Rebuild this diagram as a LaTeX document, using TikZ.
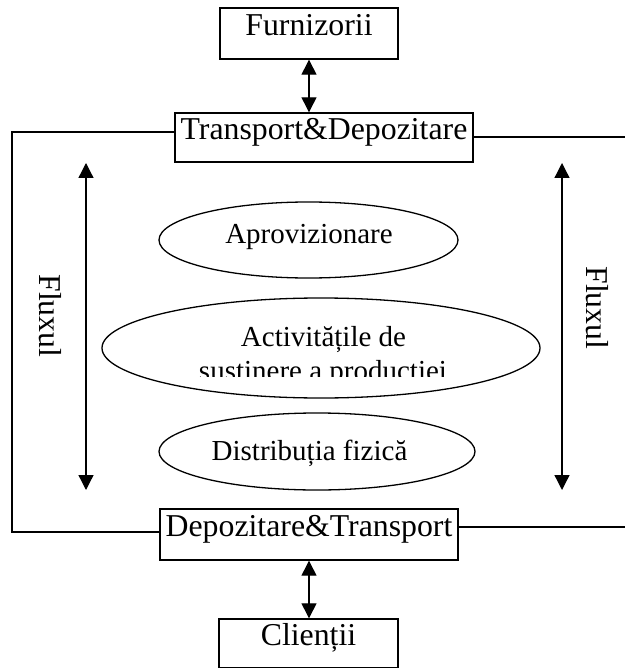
\documentclass[tikz,border=0pt]{standalone}
\usepackage{fontspec}
\setmainfont{Liberation Serif}
\usetikzlibrary{arrows.meta,shapes.geometric}
\begin{document}
\begin{tikzpicture}[x=1pt,y=-1pt,
  boxnode/.style={draw,line width=1.4pt,inner sep=0pt,
    font=\fontsize{31.8}{36}\selectfont,text height=0.7em,text depth=0.25em},
  oval/.style={draw,ellipse,line width=1.3pt,inner sep=0pt},
  ovaltext/.style={anchor=base,inner sep=0pt,font=\fontsize{29}{33}\selectfont},
  link/.style={line width=1.3pt},
  flow/.style={line width=1.3pt,
    {Triangle[length=15pt,width=15pt]}-{Triangle[length=15pt,width=15pt]}},
  fluxlabel/.style={rotate=-90,inner sep=0pt,font=\fontsize{31.8}{36}\selectfont}]
\useasboundingbox (0,0) rectangle (625,668);

% boxes of the chain
\node[boxnode,minimum width=178pt,minimum height=51pt] (furn) at (309,33.5) {Furnizorii};
\node[boxnode,minimum width=298pt,minimum height=49pt] (td) at (324,137.5) {Transport\&Depozitare};
\node[boxnode,minimum width=298pt,minimum height=51pt] (dt) at (309,534.5) {Depozitare\&Transport};
\node[boxnode,minimum width=179pt,minimum height=49pt] (cli) at (308.5,643.5) {Clienții};

% vertical links between boxes
\draw[flow] (furn.south) -- (furn.south |- td.north);
\draw[flow] (dt.south) -- (dt.south |- cli.north);

% outer frame lines
\coordinate (lt) at (12,132);
\coordinate (lb) at (12,532);
\coordinate (rt) at (625,137);
\coordinate (rb) at (625,527);
\draw[link] (td.west |- lt) -- (lt) -- (lb) -- (dt.west |- lb);
\draw[link] (td.east |- rt) -- (rt);
\draw[link] (dt.east |- rb) -- (rb);

% activity ovals
\node[oval,minimum width=299pt,minimum height=76pt] (apr) at (308.5,240) {};
\node[ovaltext] (aprt) at (309,243) {Aprovizionare};
\node[oval,minimum width=438pt,minimum height=100pt] (act) at (321,348) {};
\begin{scope}
  \clip (0,290) rectangle (625,376);
  \node[ovaltext] (act1) at (323.5,346) {Activitățile de};
  \node[ovaltext] (act2) at (323,380) {sustinere a productiei};
\end{scope}
\node[oval,minimum width=316pt,minimum height=77pt] (dis) at (317,451.5) {};
\node[ovaltext] (dist) at (309.5,460) {Distribuția fizică};

% flow arrows with labels
\coordinate (flt) at (86,163);
\coordinate (flb) at (86,490);
\coordinate (frt) at (562,163);
\coordinate (frb) at (562,490);
\draw[flow] (flt) -- (flb);
\draw[flow] (frt) -- (frb);
\node[fluxlabel] (fl) at (50,316) {Fluxul};
\node[fluxlabel] (fr) at (597.5,308) {Fluxul};
\end{tikzpicture}
\end{document}
